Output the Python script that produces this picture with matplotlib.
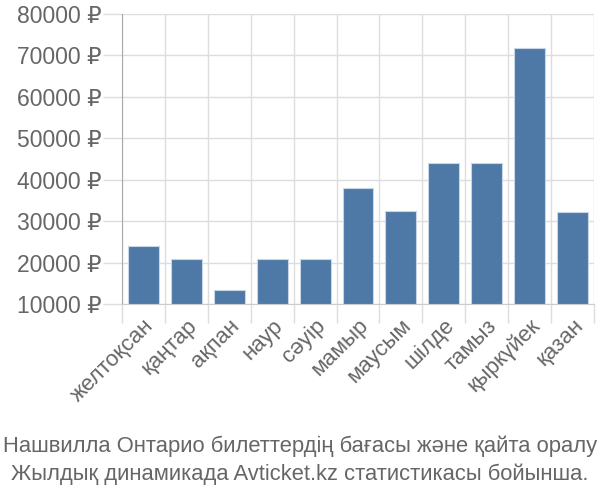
import matplotlib
matplotlib.use("Agg")
import matplotlib.pyplot as plt
import numpy as np
from matplotlib.ticker import FixedLocator, FuncFormatter

months = ["желтоқсан", "қаңтар", "ақпан", "наур", "сәуір", "мамыр",
          "маусым", "шілде", "тамыз", "қыркүйек", "қазан"]
prices = [24000, 20800, 13300, 20800, 20800, 37900, 32500, 44000, 44000, 71800, 32200]
y_ticks = [10000, 20000, 30000, 40000, 50000, 60000, 70000, 80000]
caption = ["Нашвилла Онтарио билеттердің бағасы және қайта оралу",
           "Жылдық динамикада Avticket.kz статистикасы бойынша."]

plt.rcParams['font.family'] = ['Liberation Sans', 'DejaVu Sans']
text_color = "#666666"

fig = plt.figure(figsize=(6, 5), dpi=100)
ax = fig.add_axes([0.2033, 0.392, 0.7867, 0.580])

x = np.arange(len(months))
ax.bar(x, prices - np.array(y_ticks[0]), bottom=y_ticks[0], width=0.72,
       color="#4e79a7", edgecolor="#c9d6e6", linewidth=0.8, zorder=3)

ax.set_xlim(-0.5, len(months) - 0.5)
ax.set_ylim(y_ticks[0], y_ticks[-1])
ax.set_yticks(y_ticks)
ax.yaxis.set_major_formatter(FuncFormatter(lambda v, p: f"{int(v)} ₽"))

# category boundaries carry the grid, labels sit at bar centres
ax.xaxis.set_major_locator(FixedLocator(np.arange(len(months) + 1) - 0.5))
ax.xaxis.set_major_formatter(FuncFormatter(lambda v, p: ""))
ax.xaxis.set_minor_locator(FixedLocator(x))
ax.set_xticklabels(months, minor=True, rotation=45, ha="right",
                   rotation_mode="anchor", fontsize=16, color=text_color)
ax.tick_params(axis="x", which="minor", length=0, pad=8)
ax.tick_params(axis="x", which="major", length=14, color="#dddddd", width=1)
ax.tick_params(axis="y", length=14, color="#dddddd", width=1,
               labelsize=16.5, labelcolor=text_color, pad=1)

ax.grid(True, which="major", color="#dddddd", linewidth=1, zorder=0)
for side in ["top", "right"]:
    ax.spines[side].set_visible(False)
ax.spines["left"].set_color("#aaaaaa")
ax.spines["bottom"].set_color("#cccccc")

fig.text(0.5, 0.107, caption[0], ha="center", va="center", fontsize=15.8,
         color=text_color)
fig.text(0.5, 0.052, caption[1], ha="center", va="center", fontsize=15.8,
         color=text_color)

fig.savefig("out.png", dpi=100)
